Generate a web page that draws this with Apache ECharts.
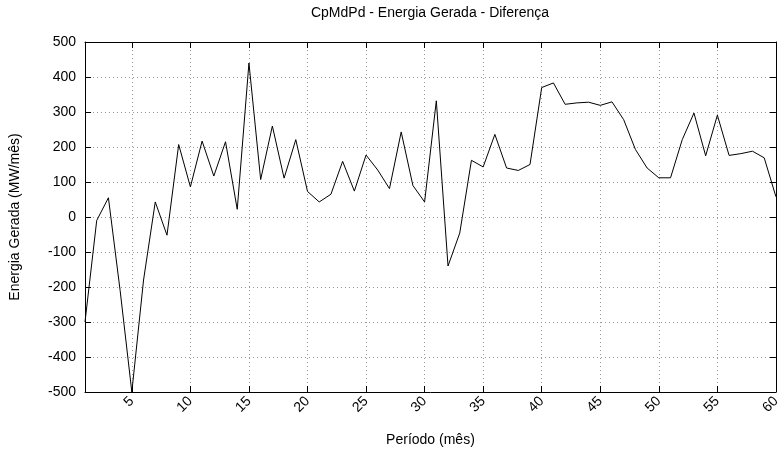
<!DOCTYPE html>
<html>
<head>
<meta charset="utf-8">
<script src="https://cdn.jsdelivr.net/npm/echarts@6/dist/echarts.min.js"></script>
<style>
html,body{margin:0;padding:0;background:#fff;}
#chart{width:783px;height:466px;}
</style>
</head>
<body>
<div id="chart"></div>
<script>
// Period (month) categories 1..60
const periods = ["1","2","3","4","5","6","7","8","9","10","11","12","13","14","15","16","17","18","19","20",
  "21","22","23","24","25","26","27","28","29","30","31","32","33","34","35","36","37","38","39","40",
  "41","42","43","44","45","46","47","48","49","50","51","52","53","54","55","56","57","58","59","60"];
// Energy difference (MW/mês)
const diffValues = [-300, -10, 55, -210, -500, -180, 43, -52, 207, 86,
  217, 117, 215, 22, 440, 107, 260, 111, 221, 73,
  43, 65, 159, 74, 177, 134, 81, 243, 90, 43,
  332, -140, -46, 162, 143, 236, 140, 133, 150, 370,
  383, 322, 326, 328, 319, 329, 278, 193, 140, 112,
  112, 221, 297, 175, 291, 176, 181, 188, 169, 58];
const titleText = "CpMdPd - Energia Gerada - Diferença";
const xName = "Período (mês)";
const yName = "Energia Gerada (MW/mês)";

const FONT = "Liberation Sans";
const FS = 14;
const every5 = function (idx) { return (idx + 1) % 5 === 0; };
const chart = echarts.init(document.getElementById('chart'), null, {renderer: 'canvas'});
chart.setOption({
  animation: false,
  backgroundColor: '#fff',
  title: {
    text: titleText, left: 430, top: 6, padding: 0, textAlign: 'center',
    textStyle: {fontFamily: FONT, fontSize: FS, fontWeight: 'normal', color: '#000'}
  },
  grid: {left: 82, right: 4, top: 42, bottom: 74, containLabel: false},
  xAxis: [{
    type: 'category', data: periods, boundaryGap: false, position: 'bottom',
    axisLine: {show: true, onZero: false, lineStyle: {color: '#000', width: 1}},
    axisTick: {show: true, inside: true, length: 6, interval: every5, lineStyle: {color: '#000'}},
    axisLabel: {interval: every5, rotate: 45, margin: 7, fontFamily: FONT, fontSize: FS, color: '#000'},
    splitLine: {show: true, interval: every5, lineStyle: {color: '#999', type: [1, 3], width: 1}},
    name: xName, nameLocation: 'middle', nameGap: 41,
    nameTextStyle: {fontFamily: FONT, fontSize: FS, color: '#000'}
  }, {
    type: 'category', data: periods, boundaryGap: false, position: 'top',
    axisLine: {show: true, onZero: false, lineStyle: {color: '#000', width: 1}},
    axisTick: {show: true, inside: true, length: 6, interval: every5, lineStyle: {color: '#000'}},
    axisLabel: {show: false}, splitLine: {show: false}
  }],
  yAxis: [{
    type: 'value', min: -500, max: 500, interval: 100, position: 'left',
    axisLine: {show: true, onZero: false, lineStyle: {color: '#000', width: 1}},
    axisTick: {show: true, inside: true, length: 6, lineStyle: {color: '#000'}},
    axisLabel: {margin: 9, fontFamily: FONT, fontSize: FS, color: '#000'},
    splitLine: {show: true, lineStyle: {color: '#999', type: [1, 3], width: 1}},
    name: yName, nameLocation: 'middle', nameGap: 63, nameRotate: 90,
    nameTextStyle: {fontFamily: FONT, fontSize: FS, color: '#000'}
  }, {
    type: 'value', min: -500, max: 500, interval: 100, position: 'right',
    axisLine: {show: true, onZero: false, lineStyle: {color: '#000', width: 1}},
    axisTick: {show: true, inside: true, length: 6, lineStyle: {color: '#000'}},
    axisLabel: {show: false}, splitLine: {show: false}
  }],
  series: [{
    type: 'line', data: diffValues, xAxisIndex: 0, yAxisIndex: 0,
    showSymbol: false, symbol: 'none',
    lineStyle: {color: '#000', width: 1}
  }]
});
</script>
</body>
</html>
